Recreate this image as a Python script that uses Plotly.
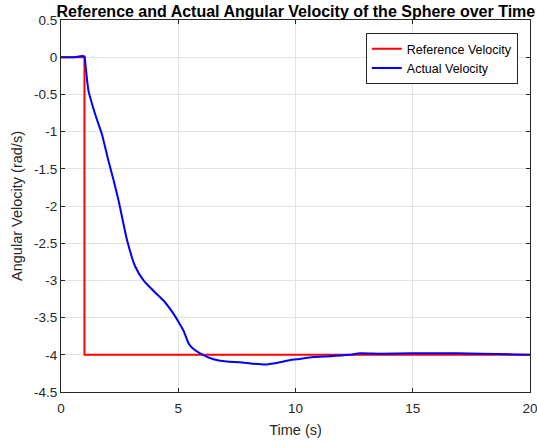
import plotly.graph_objects as go

ref_t = [0, 1, 1, 20]
ref_v = [0, 0, -4, -4]

act_t = [0, 0.5, 0.9, 1.0, 1.05, 1.17, 1.45, 1.74, 2.02, 2.24, 2.45, 2.81, 3.16, 3.52,
         3.94, 4.37, 4.8, 5.07, 5.23, 5.43, 5.6, 5.93, 6.5, 7.07, 7.63, 8.2, 8.77, 9.34,
         9.77, 10.05, 10.76, 11.47, 12.3, 12.75, 13.6, 15, 16.9, 17.9, 19.3, 20]
act_v = [0, 0.0, 0.015, 0.01, -0.12, -0.45, -0.76, -1.03, -1.39, -1.65, -1.92, -2.45, -2.81, -3.0,
         -3.14, -3.27, -3.45, -3.59, -3.68, -3.84, -3.91, -3.98, -4.06, -4.09, -4.10, -4.12, -4.13, -4.10,
         -4.07, -4.06, -4.03, -4.02, -4.0, -3.98, -3.985, -3.98, -3.98, -3.985, -3.995, -4.0]

x_ticks = [0, 5, 10, 15, 20]
y_ticks = [0.5, 0, -0.5, -1, -1.5, -2, -2.5, -3, -3.5, -4, -4.5]

FONT = "Liberation Sans, Arial"

fig = go.Figure()
fig.add_trace(go.Scatter(x=ref_t, y=ref_v, mode="lines", name="Reference Velocity",
                         line=dict(color="#ff0000", width=2)))
fig.add_trace(go.Scatter(x=act_t, y=act_v, mode="lines", name="Actual Velocity",
                         line=dict(color="#0000ff", width=2, shape="spline", smoothing=0.5)))

axis_common = dict(showline=True, linecolor="#262626", linewidth=1, mirror="ticks",
                   ticks="inside", ticklen=4, tickcolor="#262626", automargin=False,
                   showgrid=True, gridcolor="#e3e3e3", gridwidth=1, zeroline=False,
                   ticklabeloverflow="allow",
                   tickfont=dict(family=FONT, size=13.5, color="#262626"),
                   title_font=dict(family=FONT, size=14.5, color="#262626"))

fig.update_layout(
    width=537, height=442,
    margin=dict(l=61, r=7, t=20, b=50, autoexpand=False),
    paper_bgcolor="white", plot_bgcolor="white",
    title=dict(text="<b>Reference and Actual Angular Velocity of the Sphere over Time</b>",
               x=0.551, xanchor="center", xref="container", y=0.975, yref="container",
               yanchor="middle", automargin=False,
               font=dict(family=FONT, size=16, color="black")),
    xaxis=dict(range=[0, 20], tickvals=x_ticks, ticktext=[str(v) for v in x_ticks],
               ticklabelstandoff=4,
               title=dict(text="Time (s)", standoff=9), **axis_common),
    yaxis=dict(range=[-4.5, 0.5], tickvals=y_ticks, ticktext=[f"{v:g}" for v in y_ticks],
               ticklabelstandoff=0,
               title=dict(text="Angular Velocity (rad/s)", standoff=7), **axis_common),
    legend=dict(x=0.974, y=0.965, xanchor="right", yanchor="top",
                bgcolor="white", bordercolor="#262626", borderwidth=1,
                font=dict(family=FONT, size=12.5, color="black"),
                tracegroupgap=0, itemwidth=30),
    showlegend=True,
)

fig.write_html("out.html", config={"displayModeBar": False},
               post_script="document.body.style.margin='0';")
